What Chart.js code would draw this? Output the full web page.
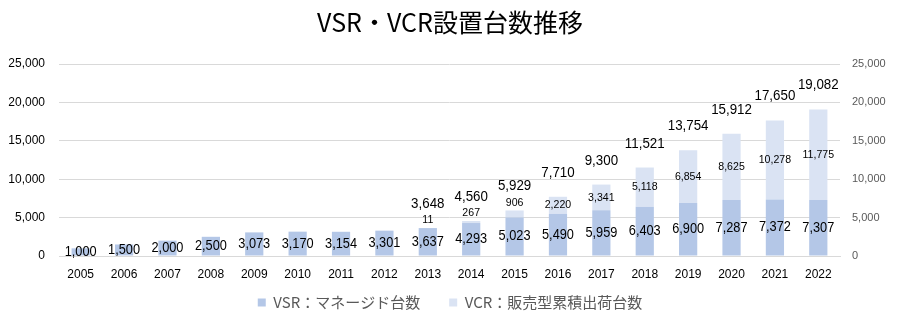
<!DOCTYPE html>
<html lang="ja">
<head>
<meta charset="utf-8">
<title>VSR・VCR設置台数推移</title>
<script src="https://cdn.jsdelivr.net/npm/chart.js@4/dist/chart.umd.min.js"></script>
<style>
  html, body { margin: 0; padding: 0; background: #fff; }
  #wrap { width: 900px; height: 324px; }
</style>
</head>
<body>
<div id="wrap"><canvas id="chart" width="900" height="324"></canvas></div>
<script>
// Installed units per year
const years = ['2005', '2006', '2007', '2008', '2009', '2010', '2011', '2012', '2013',
  '2014', '2015', '2016', '2017', '2018', '2019', '2020', '2021', '2022'];
const vsrUnits = [1000, 1500, 2000, 2500, 3073, 3170, 3154, 3301, 3637,
  4293, 5023, 5490, 5959, 6403, 6900, 7287, 7372, 7307];
const vcrUnits = [null, null, null, null, null, null, null, null, 11,
  267, 906, 2220, 3341, 5118, 6854, 8625, 10278, 11775];
const axisTicks = [0, 5000, 10000, 15000, 20000, 25000];

const JP_FONT = "'Noto Sans CJK JP', sans-serif";
const NUM_FONT = "'Liberation Sans', sans-serif";
const fmt = v => v.toLocaleString('en-US');

// narrow-looking numbers: squeeze the text horizontally a bit
function drawNum(ctx, text, x, y, size, squeeze) {
  ctx.save();
  ctx.font = size + 'px ' + NUM_FONT;
  ctx.translate(x, y);
  ctx.scale(squeeze, 1);
  ctx.fillText(text, 0, 0);
  ctx.restore();
}

// value labels inside the bars, plus the stack total above
const valueLabels = {
  id: 'valueLabels',
  afterDatasetsDraw(chart) {
    const ctx = chart.ctx;
    ctx.save();
    ctx.textAlign = 'center';
    ctx.textBaseline = 'middle';
    ctx.fillStyle = '#000';
    chart.getDatasetMeta(0).data.forEach((bar, i) => {
      drawNum(ctx, fmt(vsrUnits[i]), bar.x, (bar.y + bar.base) / 2, 14.5, 0.88);
    });
    chart.getDatasetMeta(1).data.forEach((bar, i) => {
      const v = vcrUnits[i];
      if (v == null) return;
      const thin = bar.base - bar.y < 12;
      drawNum(ctx, fmt(v), bar.x, thin ? bar.y - 8 : (bar.y + bar.base) / 2, 11.5, 0.92);
      drawNum(ctx, fmt(vsrUnits[i] + v), bar.x, bar.y - 24, 14.5, 0.92);
    });
    ctx.restore();
  }
};

new Chart(document.getElementById('chart'), {
  type: 'bar',
  data: {
    labels: years,
    datasets: [
      { label: 'VSR：マネージド台数', data: vsrUnits, backgroundColor: '#b4c7e7', stack: 's' },
      { label: 'VCR：販売型累積出荷台数', data: vcrUnits, backgroundColor: '#dae3f3', stack: 's' }
    ]
  },
  options: {
    responsive: false,
    animation: false,
    barPercentage: 0.42,
    categoryPercentage: 1,
    layout: { padding: { left: 0, right: 0, top: 0, bottom: 4 } },
    plugins: {
      tooltip: { enabled: false },
      title: {
        display: true,
        text: 'VSR・VCR設置台数推移',
        color: '#000',
        font: { family: JP_FONT, size: 25, weight: 'normal', lineHeight: 1.2 },
        padding: { top: 7, bottom: 27 }
      },
      legend: {
        position: 'bottom',
        labels: {
          color: '#595959',
          boxWidth: 8,
          boxHeight: 8,
          padding: 14,
          font: { family: JP_FONT, size: 15 },
          generateLabels(chart) {
            const items = Chart.defaults.plugins.legend.labels.generateLabels(chart);
            items[0].text += '\u3000';
            items.forEach(it => { it.lineWidth = 0; });
            return items;
          }
        }
      }
    },
    scales: {
      x: {
        stacked: true,
        grid: { display: false, drawTicks: false },
        border: { color: '#d9d9d9' },
        ticks: { color: '#000', padding: 11, font: { family: NUM_FONT, size: 12 } },
        afterFit(s) { s.height = 25; }
      },
      y: {
        stacked: true,
        min: 0,
        max: 25000,
        afterBuildTicks(s) { s.ticks = axisTicks.map(v => ({ value: v })); },
        grid: { color: '#d9d9d9', drawTicks: false },
        border: { display: false },
        ticks: { color: '#000', padding: 14, callback: v => fmt(v), font: { family: NUM_FONT, size: 12 } },
        afterFit(s) { s.width = 59; }
      },
      y2: {
        position: 'right',
        min: 0,
        max: 25000,
        afterBuildTicks(s) { s.ticks = axisTicks.map(v => ({ value: v })); },
        grid: { display: false, drawTicks: false },
        border: { display: false },
        ticks: { color: '#595959', padding: 12, callback: v => fmt(v), font: { family: NUM_FONT, size: 11 } },
        afterFit(s) { s.width = 60; }
      }
    }
  },
  plugins: [valueLabels]
});
</script>
</body>
</html>
